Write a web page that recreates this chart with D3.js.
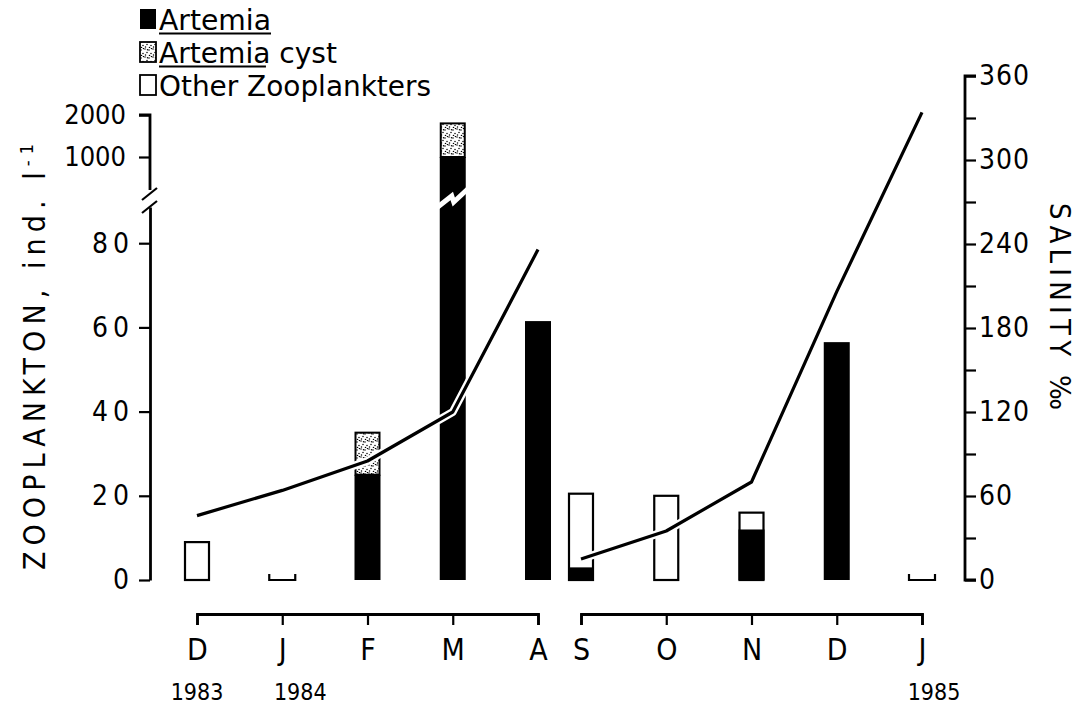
<!DOCTYPE html>
<html>
<head>
<meta charset="utf-8">
<script src="https://cdn.jsdelivr.net/npm/d3@7"></script>
<style>
  html, body { margin: 0; padding: 0; background: #fff; }
  svg { display: block; }
  text { font-family: "DejaVu Sans Condensed", "DejaVu Sans", sans-serif; fill: #000; }
</style>
</head>
<body>
<svg id="chart" width="1086" height="704"></svg>
<script>
// Monthly samples, Dec 1983 – Jan 1985 (no samples May–Aug 1984)
const months     = ["D", "J", "F", "M", "A", "S", "O", "N", "D", "J"];
const monthIndex = [0, 1, 2, 3, 4, 9, 10, 11, 12, 13];
const yearLabels = [
  { idx: 0,  text: "1983" },
  { idx: 1,  text: "1984" },
  { idx: 13, text: "1985" }
];

// Zooplankton density, ind. l-1
const artemia = [0, 0, 25, 1000, 61.5, 3, 0, 12, 56.5, 0];
const cyst    = [0, 0, 10, 800, 0, 0, 0, 0, 0, 0];
const other   = [9, 0, 0, 0, 0, 17.5, 20, 4, 0, 0];

// Salinity (‰), two sampling periods
const salinityIdxA = [0, 1, 2, 3, 4];
const salinityA    = [46, 64, 85, 120, 236];
const salinityIdxB = [9, 10, 11, 12, 13];
const salinityB    = [15, 35, 70, 206, 334];

const lowTicks  = [0, 20, 40, 60, 80];
const highTicks = [1000, 2000];
const salTicks  = d3.range(0, 361, 30);

const svg = d3.select("#chart");

// ---- scales ----
const baseY = 580;
const yLow  = d3.scaleLinear().domain([0, 80]).range([baseY, 243.2]);
const yHigh = d3.scaleLinear().domain([1000, 2000]).range([157, 115]);
const y = v => (v <= 90 ? yLow(v) : yHigh(v));
const ySal = d3.scaleLinear().domain([0, 360]).range([baseY, 76]);

// time axis broken between April and September
const xA = d3.scaleLinear().domain([0, 4]).range([197, 538]);
const xB = d3.scaleLinear().domain([9, 13]).range([581, 922]);
const x = i => (i <= 4 ? xA(i) : xB(i));

const barW = 26;

// ---- stipple pattern for cysts ----
const defs = svg.append("defs");
const pat = defs.append("pattern")
  .attr("id", "stipple").attr("patternUnits", "userSpaceOnUse")
  .attr("width", 8).attr("height", 8);
pat.append("rect").attr("width", 8).attr("height", 8).attr("fill", "#fff");
[[1, 1], [5, 2], [3, 4.5], [7, 5.5], [1.5, 7], [5.5, 7.5], [7.5, 0.5], [3.5, 1.8]].forEach(([cx, cy]) =>
  pat.append("circle").attr("cx", cx).attr("cy", cy).attr("r", 0.75).attr("fill", "#000"));

// ---- bars ----
const rows = months.map((m, i) => ({
  m, idx: monthIndex[i], art: artemia[i], cyst: cyst[i], oth: other[i]
}));

const bars = svg.append("g");
rows.forEach(d => {
  const cx = x(d.idx);
  const x0 = cx - barW / 2;
  const total = d.art + d.cyst + d.oth;
  if (total === 0) {
    // empty sample marker
    bars.append("path")
      .attr("d", `M${x0},${baseY - 6}V${baseY}H${x0 + barW}V${baseY - 6}`)
      .attr("fill", "none").attr("stroke", "#000").attr("stroke-width", 2.2);
    return;
  }
  if (d.oth > 0) {
    bars.append("rect")
      .attr("x", x0 + 1).attr("width", barW - 2)
      .attr("y", y(d.art + d.oth)).attr("height", baseY - y(d.art + d.oth))
      .attr("fill", "#fff").attr("stroke", "#000").attr("stroke-width", 2.2);
  }
  if (d.art > 0) {
    bars.append("rect")
      .attr("x", x0).attr("width", barW)
      .attr("y", y(d.art)).attr("height", baseY - y(d.art))
      .attr("fill", "#000");
  }
  if (d.cyst > 0) {
    const top = y(d.art + d.cyst), bot = y(d.art);
    bars.append("rect")
      .attr("x", x0 + 1).attr("width", barW - 2)
      .attr("y", top).attr("height", bot - top)
      .attr("fill", "url(#stipple)").attr("stroke", "#000").attr("stroke-width", 2);
  }
  if (d.art + d.cyst > 90) {
    // scale break through the tall bar
    bars.append("path")
      .attr("d", `M${x0 - 2},${207} L${cx - 1},${196} L${cx + 1},${202} L${x0 + barW + 2},${189}`)
      .attr("fill", "none").attr("stroke", "#fff").attr("stroke-width", 5);
  }
});

// ---- salinity line ----
const line = d3.line().x(d => x(d[0])).y(d => ySal(d[1]));
const segs = [
  salinityIdxA.map((v, i) => [v, salinityA[i]]),
  salinityIdxB.map((v, i) => [v, salinityB[i]])
];
const lineG = svg.append("g");
segs.forEach(s => {
  lineG.append("path").attr("d", line(s)).attr("fill", "none")
    .attr("stroke", "#fff").attr("stroke-width", 8).attr("stroke-linejoin", "round");
});
segs.forEach(s => {
  lineG.append("path").attr("d", line(s)).attr("fill", "none")
    .attr("stroke", "#000").attr("stroke-width", 3.2).attr("stroke-linejoin", "round");
});

// ---- axes ----
function styleAxis(g, fontSize, spacing) {
  g.selectAll(".domain").attr("stroke", "#000").attr("stroke-width", 2.8);
  g.selectAll(".tick line").attr("stroke", "#000").attr("stroke-width", 2.2);
  g.selectAll("text").style("font-size", fontSize + "px")
    .style("font-family", '"DejaVu Sans Condensed", "DejaVu Sans", sans-serif')
    .style("letter-spacing", (spacing || 0) + "px")
    .attr("fill", "#000");
  g.attr("font-family", null).attr("font-size", null);
}

const axisX = 150;
// lower part of the left axis
const yLowAxis = yLow.copy().domain([0, yLow.invert(207)]).range([baseY, 207]);
const gLow = svg.append("g").attr("transform", `translate(${axisX},0)`)
  .call(d3.axisLeft(yLowAxis).tickValues(lowTicks).tickSizeInner(11).tickSizeOuter(0).tickPadding(5)
    .tickFormat(d3.format("d")));
styleAxis(gLow, 28, 5);

// upper part of the left axis
const yHighAxis = yHigh.copy().domain([yHigh.invert(190), 2000]).range([190, 115]);
const gHigh = svg.append("g").attr("transform", `translate(${axisX},0)`)
  .call(d3.axisLeft(yHighAxis).tickValues(highTicks).tickSizeInner(11).tickSizeOuter(0).tickPadding(13)
    .tickFormat(d3.format("d")));
styleAxis(gHigh, 27, 0);
gHigh.select(".domain").attr("d", `M-11,115H0V190`);

// break marks on the left axis
svg.append("g").attr("stroke", "#000").attr("stroke-width", 2.2)
  .selectAll("line").data([[188, 200], [201, 213]]).join("line")
  .attr("x1", axisX + 7).attr("y1", d => d[0])
  .attr("x2", axisX - 8).attr("y2", d => d[1]);

// right salinity axis
const rightX = 965;
const gSal = svg.append("g").attr("transform", `translate(${rightX},0)`)
  .call(d3.axisRight(ySal).tickValues(salTicks).tickSizeInner(11).tickSizeOuter(0).tickPadding(3)
    .tickFormat(v => (v % 60 === 0 ? v : "")));
styleAxis(gSal, 28, 1);
gSal.select(".domain").attr("d", `M11,76H0V${baseY}H11`);

// bottom time axes
const axisY = 614;
[[xA, [0, 1, 2, 3, 4]], [xB, [9, 10, 11, 12, 13]]].forEach(([sc, tv]) => {
  const g = svg.append("g").attr("transform", `translate(0,${axisY})`)
    .call(d3.axisBottom(sc).tickValues(tv).tickSizeInner(11).tickSizeOuter(11).tickPadding(14)
      .tickFormat(v => months[monthIndex.indexOf(v)]));
  styleAxis(g, 30, 0);
});

// years
svg.append("g").selectAll("text").data(yearLabels).join("text")
  .attr("x", d => x(d.idx) + (d.idx === 1 ? 18 : d.idx === 13 ? 12 : 0))
  .attr("y", 700).attr("text-anchor", "middle")
  .style("font-size", "23px").text(d => d.text);

// ---- axis titles ----
const yTitle = svg.append("text")
  .attr("transform", "translate(45,570) rotate(-90)")
  .attr("textLength", 426).attr("lengthAdjust", "spacing")
  .style("font-size", "30px");
yTitle.append("tspan").text("ZOOPLANKTON, ind. l");
yTitle.append("tspan").attr("dy", -12).style("font-size", "18px").text("-1");

svg.append("text")
  .attr("transform", "translate(1050,203) rotate(90)")
  .attr("textLength", 207).attr("lengthAdjust", "spacing")
  .style("font-size", "29px")
  .text("SALINITY ‰");

// ---- legend ----
const legend = [
  { label: "Artemia", under: "Artemia", fill: "#000", stroke: "none", len: 112 },
  { label: "Artemia cyst", under: "Artemia", fill: "url(#stipple)", stroke: "#000", len: 178 },
  { label: "Other Zooplankters", under: null, fill: "#fff", stroke: "#000", len: 272 }
];
const lg = svg.append("g");
legend.forEach((d, i) => {
  const base = 30 + i * 33;
  lg.append("rect")
    .attr("x", 140).attr("y", base - 21).attr("width", 16).attr("height", 20)
    .attr("fill", d.fill).attr("stroke", d.stroke).attr("stroke-width", 1.8);
  const t = lg.append("text").attr("x", 159).attr("y", base)
    .attr("textLength", d.len).attr("lengthAdjust", "spacingAndGlyphs")
    .style("font-size", "28px").text(d.label);
  if (d.under) {
    // underline the genus name
    const w = d.len * d.under.length / d.label.length * (d.under === d.label ? 1 : 1.03);
    lg.append("line")
      .attr("x1", 159).attr("x2", 159 + w)
      .attr("y1", base + 3.5).attr("y2", base + 3.5)
      .attr("stroke", "#000").attr("stroke-width", 2);
  }
});
</script>
</body>
</html>
